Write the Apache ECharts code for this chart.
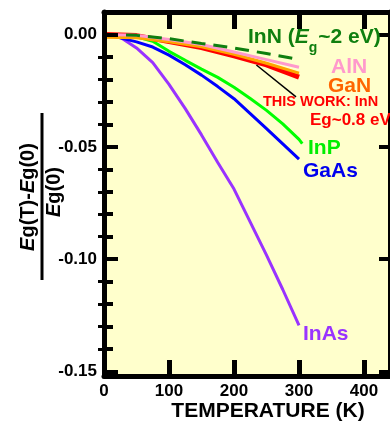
<!DOCTYPE html>
<html>
<head>
<meta charset="utf-8">
<script src="https://cdn.jsdelivr.net/npm/echarts@6/dist/echarts.min.js"></script>
<style>
  html, body { margin: 0; padding: 0; background: #fff; }
  #chart { width: 390px; height: 421px; }
</style>
</head>
<body>
<div id="chart"></div>
<script>
// temperatures (K)
const temps = [0, 25, 50, 75, 100, 125, 150, 175, 200, 225, 250, 275, 300]
const tempsInP = [0, 25, 50, 75, 100, 125, 150, 175, 200, 225, 250, 275, 300, 305]
const tempsNitride = [0, 50, 100, 150, 200, 250, 300]
const tempsInN2 = [0, 50, 100, 150, 200, 250, 295]

// [Eg(T)-Eg(0)]/Eg(0)
const inAs = [0, -0.0012, -0.006, -0.0125, -0.0222, -0.033, -0.0447, -0.057, -0.0688, -0.0835, -0.0982, -0.1135, -0.1295]
const gaAs = [0, -0.0015, -0.0033, -0.0056, -0.0092, -0.0135, -0.0181, -0.0232, -0.0286, -0.0352, -0.0419, -0.0487, -0.0555]
const inP = [0, -0.0003, -0.001, -0.003, -0.0075, -0.0115, -0.0154, -0.0191, -0.0235, -0.0285, -0.0338, -0.0398, -0.0467, -0.0486]
const inNThisWork = [0, -0.0005, -0.0032, -0.0058, -0.0095, -0.0135, -0.019]
const gaN = [-0.0012, -0.0015, -0.0032, -0.0055, -0.0088, -0.0128, -0.0172]
const alN = [0, -0.0003, -0.0022, -0.0045, -0.0078, -0.0112, -0.0146]
const inN2eV = [0, -0.0004, -0.0019, -0.004, -0.006, -0.0085, -0.0109]

// pointer from the InN curve to its label
const pointerT = [234.5, 295.4]
const pointerV = [-0.0136, -0.0278]

// ticks
const xTicks = [0, 100, 200, 300, 400]
const yMajor = [0, -0.05, -0.1, -0.15]
const yMinor = [-0.01, -0.02, -0.03, -0.04, -0.06, -0.07, -0.08, -0.09, -0.11, -0.12, -0.13, -0.14]

const FONT = '"Liberation Sans", Arial, sans-serif'
const pairs = (xs, ys) => xs.map((x, i) => [x, ys[i]])

const chart = echarts.init(document.getElementById('chart'))

const frame = { onZero: false, lineStyle: { color: '#000', width: 5 } }

const lineSeries = (name, xs, ys, color, width, type) => ({
  name,
  type: 'line',
  data: pairs(xs, ys),
  symbol: 'none',
  silent: true,
  lineStyle: { color, width, type: type || 'solid' }
})

const label = (text, x, y, color, size) => ({
  type: 'text',
  x, y,
  z: 10,
  style: {
    text,
    fill: color,
    font: 'bold ' + size + 'px ' + FONT,
    textAlign: 'left',
    textVerticalAlign: 'middle'
  }
})

const option = {
  animation: false,
  grid: {
    left: 104, top: 12, width: 289, height: 364,
    show: true, backgroundColor: '#FFFFCC', borderWidth: 0
  },
  xAxis: [
    {
      type: 'value', position: 'bottom', min: 0, max: 440, z: 5,
      axisLine: frame,
      axisTick: { inside: true, length: 16, customValues: xTicks, lineStyle: { color: '#000', width: 5 } },
      axisLabel: { customValues: xTicks, color: '#000', fontWeight: 'bold', fontSize: 17, fontFamily: FONT, margin: 7 },
      splitLine: { show: false }
    },
    {
      type: 'value', position: 'top', min: 0, max: 440, z: 5,
      axisLine: frame,
      axisTick: { inside: true, length: 17, customValues: xTicks, lineStyle: { color: '#000', width: 5 } },
      axisLabel: { show: false },
      splitLine: { show: false }
    }
  ],
  yAxis: [
    {
      type: 'value', position: 'left', min: -0.152, max: 0.01, z: 5,
      axisLine: frame,
      axisTick: { inside: true, length: 14, customValues: yMajor, lineStyle: { color: '#000', width: 4 } },
      axisLabel: {
        customValues: yMajor, color: '#000', fontWeight: 'bold', fontSize: 17, fontFamily: FONT, margin: 7,
        formatter: v => v.toFixed(2)
      },
      splitLine: { show: false }
    },
    {
      type: 'value', position: 'left', min: -0.152, max: 0.01, z: 5,
      axisLine: { show: false },
      axisTick: { inside: true, length: 9, customValues: yMinor, lineStyle: { color: '#000', width: 4 } },
      axisLabel: { show: false },
      splitLine: { show: false }
    },
    {
      type: 'value', position: 'right', min: -0.152, max: 0.01, z: 5,
      axisLine: frame,
      axisTick: { inside: true, length: 11, customValues: yMajor, lineStyle: { color: '#000', width: 4 } },
      axisLabel: { show: false },
      splitLine: { show: false }
    },
    {
      type: 'value', position: 'right', min: -0.152, max: 0.01, z: 5,
      axisLine: { show: false },
      axisTick: { inside: true, length: 6, customValues: yMinor, lineStyle: { color: '#000', width: 3 } },
      axisLabel: { show: false },
      splitLine: { show: false }
    }
  ],
  series: [
    lineSeries('InAs', temps, inAs, '#9933ff', 3),
    lineSeries('GaAs', temps, gaAs, '#0000ff', 3),
    lineSeries('InP', tempsInP, inP, '#00ff00', 3),
    lineSeries('InN this work', tempsNitride, inNThisWork, '#ff0000', 5),
    lineSeries('GaN', tempsNitride, gaN, '#ffa500', 3),
    lineSeries('AlN', tempsNitride, alN, '#ff99cc', 3),
    lineSeries('InN 2 eV', tempsInN2, inN2eV, '#0f7f0f', 3, [14, 8]),
    lineSeries('pointer', pointerT, pointerV, '#000', 1.5)
  ],
  graphic: [
    {
      type: 'text', x: 248, y: 27, z: 10,
      style: {
        text: '{a|InN (}{i|E}{s|g}{a|~2 eV)}',
        fill: '#0f7f0f',
        rich: {
          a: { font: 'bold 21px ' + FONT, lineHeight: 24, verticalAlign: 'top', fill: '#0f7f0f' },
          i: { font: 'italic bold 21px ' + FONT, lineHeight: 24, verticalAlign: 'top', fill: '#0f7f0f' },
          s: { font: 'bold 14px ' + FONT, lineHeight: 14, verticalAlign: 'top', padding: [14, 1, 0, 0], fill: '#0f7f0f' }
        }
      }
    },
    label('AlN', 331, 67, '#ff99cc', 21),
    label('GaN', 328, 86, '#ff6600', 21),
    label('THIS WORK: InN', 263, 102, '#ff0000', 14.5),
    label('Eg~0.8 eV', 310, 120, '#ff0000', 17),
    label('InP', 308, 148, '#00ee00', 21),
    label('GaAs', 303, 171, '#0000ee', 21),
    label('InAs', 303, 334, '#9933ff', 21),
    {
      type: 'text', x: 268, y: 411, z: 10,
      style: { text: 'TEMPERATURE (K)', fill: '#000', font: 'bold 21px ' + FONT, textAlign: 'center', textVerticalAlign: 'middle' }
    },
    // y-axis title as a fraction, rotated
    {
      type: 'text', x: 28, y: 197, rotation: Math.PI / 2, z: 10,
      style: {
        text: '{i|E}{n|g(T)-}{i|E}{n|g(0)}',
        textAlign: 'center', textVerticalAlign: 'middle',
        rich: {
          i: { font: 'italic bold 20px ' + FONT, fill: '#000' },
          n: { font: 'bold 20px ' + FONT, fill: '#000' }
        }
      }
    },
    {
      type: 'line', z: 10,
      shape: { x1: 42, y1: 113, x2: 42, y2: 280 },
      style: { stroke: '#000', lineWidth: 3 }
    },
    {
      type: 'text', x: 54, y: 192, rotation: Math.PI / 2, z: 10,
      style: {
        text: '{i|E}{n|g(0)}',
        textAlign: 'center', textVerticalAlign: 'middle',
        rich: {
          i: { font: 'italic bold 20px ' + FONT, fill: '#000' },
          n: { font: 'bold 20px ' + FONT, fill: '#000' }
        }
      }
    }
  ]
}

chart.setOption(option)
</script>
</body>
</html>
